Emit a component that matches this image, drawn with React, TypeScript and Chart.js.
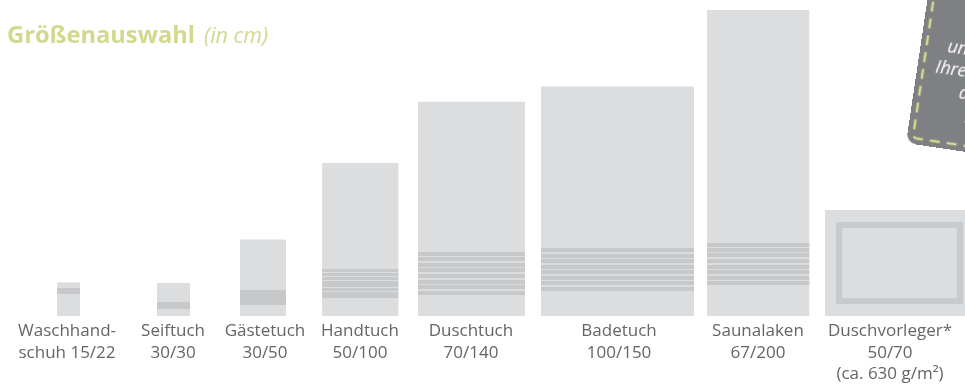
import React, { useEffect, useRef } from "react";
import { Chart, registerables } from "chart.js";

Chart.register(...registerables);

// ---- data (all sizes in cm, as drawn in the reference) ----
const categories = [
  "Waschhandschuh",
  "Seiftuch",
  "Gästetuch",
  "Handtuch",
  "Duschtuch",
  "Badetuch",
  "Saunalaken",
  "Duschvorleger",
];
const tickLabels: string[][] = [
  ["Waschhand-", "schuh 15/22"],
  ["Seiftuch", "30/30"],
  ["Gästetuch", "30/50"],
  ["Handtuch", "50/100"],
  ["Duschtuch", "70/140"],
  ["Badetuch", "100/150"],
  ["Saunalaken", "67/200"],
  ["Duschvorleger*", "50/70", "(ca. 630 g/m²)"],
];
const towelStartCm = [37.3, 102.6, 156.9, 210.5, 273.2, 353.6, 462.1, 539.2];
const towelWidthCm = [15, 21.6, 30, 50, 70, 100, 67, 97.4];
const towelLengthCm = [22, 21.6, 50, 100, 140, 150, 200, 69.3];
const labelCenterCm = [43.8, 113.1, 173.2, 235.3, 307.8, 404.6, 495.4, 581.7];
// woven border stripes, [from, to] measured from the bottom edge
const stripesCm: number[][][] = [
  [[14.4, 18.3]],
  [[4.6, 9.2]],
  [[7.2, 17.0]],
  [[28.8, 30.7], [26.1, 28.1], [23.5, 25.5], [19.0, 22.9], [16.3, 18.3], [11.8, 15.7]],
  [[39.2, 41.8], [35.9, 38.6], [32.0, 34.6], [28.8, 31.4], [24.8, 27.5], [20.9, 23.5], [17.6, 20.3], [13.7, 16.3]],
  [[41.8, 44.4], [37.9, 40.5], [34.6, 37.3], [30.7, 33.3], [27.5, 30.1], [23.5, 26.1], [20.3, 22.9], [16.3, 19.0]],
  [[45.1, 47.7], [41.8, 44.4], [38.6, 41.2], [34.6, 37.3], [30.7, 33.3], [27.5, 30.1], [23.5, 26.1], [20.3, 22.9]],
  [],
];
const matIndex = 7;
const matFrameInsetX = 7.2;
const matFrameInsetY = 7.8;
const matFrameThickness = 4;

// scale: 1.53 px per cm
const PX_PER_CM = 1.53;
const X_MAX = 965 / PX_PER_CM;
const Y_MAX = 316 / PX_PER_CM;

const BAR_COLOR = "#dcdddf";
const STRIPE_COLOR = "#c7c8ca";
const FRAME_COLOR = "#c9cacc";
const TITLE_COLOR = "#d3d88f";
const LABEL_COLOR = "#646567";

function rectDataset(label: string, x0: number, x1: number, y0: number, y1: number, color: string, order: number) {
  return {
    type: "line" as const,
    label,
    data: [
      { x: x0, y: y1 },
      { x: x1, y: y1 },
    ],
    fill: { value: y0 },
    backgroundColor: color,
    borderColor: "rgba(0,0,0,0)",
    borderWidth: 0,
    pointRadius: 0,
    pointHoverRadius: 0,
    tension: 0,
    order,
  };
}

function buildDatasets() {
  const ds: any[] = [];
  categories.forEach((name, i) => {
    const x0 = towelStartCm[i];
    const x1 = x0 + towelWidthCm[i];
    ds.push(rectDataset(name, x0, x1, 0, towelLengthCm[i], BAR_COLOR, 3));
    stripesCm[i].forEach(([a, b], j) => {
      ds.push(rectDataset(name + " Streifen " + (j + 1), x0, x1, a, b, STRIPE_COLOR, 2));
    });
    if (i === matIndex) {
      const fx0 = x0 + matFrameInsetX;
      const fx1 = x1 - matFrameInsetX;
      const fy0 = matFrameInsetY;
      const fy1 = towelLengthCm[i] - matFrameInsetY;
      ds.push(rectDataset(name + " Rahmen", fx0, fx1, fy0, fy1, FRAME_COLOR, 2));
      ds.push(
        rectDataset(
          name + " Innen",
          fx0 + matFrameThickness,
          fx1 - matFrameThickness,
          fy0 + matFrameThickness,
          fy1 - matFrameThickness,
          BAR_COLOR,
          1
        )
      );
    }
  });
  return ds;
}

export default function App() {
  const canvasRef = useRef<HTMLCanvasElement | null>(null);

  useEffect(() => {
    if (!canvasRef.current) return;
    const chart = new Chart(canvasRef.current, {
      type: "line",
      data: { datasets: buildDatasets() },
      options: {
        animation: false,
        responsive: false,
        events: [],
        layout: { padding: 0 },
        plugins: {
          legend: { display: false },
          tooltip: { enabled: false },
          title: { display: false },
        },
        scales: {
          x: {
            type: "linear",
            min: 0,
            max: X_MAX,
            grid: { display: false, drawTicks: false },
            border: { display: false },
            afterBuildTicks: (scale: any) => {
              scale.ticks = labelCenterCm.map((v) => ({ value: v }));
            },
            afterFit: (scale: any) => {
              scale.height = 385 - 316;
              scale.paddingLeft = 0;
              scale.paddingRight = 0;
            },
            ticks: {
              autoSkip: false,
              maxRotation: 0,
              minRotation: 0,
              padding: 5,
              color: LABEL_COLOR,
              font: { family: "'Open Sans'", size: 17, lineHeight: 1.25 },
              callback: (_v: any, index: number) => tickLabels[index],
            },
          },
          y: {
            type: "linear",
            display: false,
            min: 0,
            max: Y_MAX,
          },
        },
      } as any,
    });
    return () => chart.destroy();
  }, []);

  const cardW = 240;
  const cardH = 220;
  const textStyle: React.CSSProperties = {
    position: "absolute",
    fontFamily: "'Open Sans'",
    fontStyle: "italic",
    fontSize: 18,
    lineHeight: "18px",
    color: "#ffffff",
    whiteSpace: "nowrap",
  };
  const cardLines = [
    { text: "und Ihrem Logo", lx: 27, ly: -96 },
    { text: "Ihre Handtücher", lx: 18, ly: -74.5 },
    { text: "auf Anfrage", lx: 45, ly: -52 },
    { text: "Infos", lx: 54, ly: -29 },
  ];

  return (
    <div
      style={{
        position: "absolute",
        left: 0,
        top: 0,
        width: 965,
        height: 385,
        overflow: "hidden",
        background: "#ffffff",
      }}
    >
      <canvas ref={canvasRef} width={965} height={385} style={{ position: "absolute", left: 0, top: 0, width: 965, height: 385 }} />
      <div
        style={{
          position: "absolute",
          left: 7,
          top: 18,
          fontFamily: "'Open Sans'",
          color: TITLE_COLOR,
          whiteSpace: "nowrap",
          lineHeight: "normal",
        }}
      >
        <span style={{ fontWeight: 700, fontSize: 23.7 }}>Größenauswahl</span>
        <span style={{ fontStyle: "italic", fontWeight: 400, fontSize: 21.5, marginLeft: 9 }}>(in cm)</span>
      </div>
      <div
        style={{
          position: "absolute",
          left: 906,
          top: 143 - cardH,
          width: cardW,
          height: cardH,
          transformOrigin: "0 100%",
          transform: "rotate(8.5deg)",
          background: "#7f8083",
          borderRadius: 10,
        }}
      >
        <svg width={cardW} height={cardH} style={{ position: "absolute", left: 0, top: 0 }}>
          <rect
            x={6}
            y={6}
            width={cardW - 12}
            height={cardH - 12}
            rx={4}
            fill="none"
            stroke="#d4d98c"
            strokeWidth={2.5}
            strokeDasharray="10 7"
          />
        </svg>
        {cardLines.map((l, i) => (
          <div key={i} style={{ ...textStyle, left: l.lx, top: cardH + l.ly - 16 }}>
            {l.text}
          </div>
        ))}
      </div>
    </div>
  );
}
